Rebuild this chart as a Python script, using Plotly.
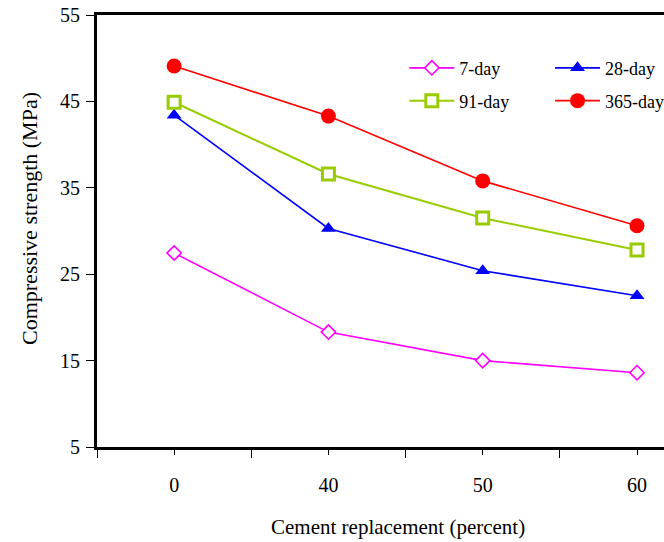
import plotly.graph_objects as go

categories = ["0", "40", "50", "60"]
day7 = [27.45, 18.3, 15.0, 13.6]
day28 = [43.4, 30.3, 25.4, 22.5]
day91 = [44.9, 36.6, 31.5, 27.8]
day365 = [49.1, 43.3, 35.8, 30.6]
yticks = [5, 15, 25, 35, 45, 55]

xpos = list(range(len(categories)))
FONT = "Liberation Serif"

fig = go.Figure()

def add(name, y, color, symbol, size, legend, lw=1.6, mlw=0, fill=None):
    fig.add_trace(go.Scatter(
        x=xpos, y=y, name=name, mode="lines+markers",
        line=dict(color=color, width=lw),
        marker=dict(symbol=symbol, size=size, color=fill if fill else color,
                    line=dict(color=color, width=mlw)),
        legend=legend,
    ))

add("7-day", day7, "#FF00FF", "diamond", 11, "legend", mlw=1.6, fill="white")
add("28-day", day28, "#0000FF", "triangle-up", 13, "legend2")
add("91-day", day91, "#99CC00", "square", 12, "legend3", lw=2, mlw=3, fill="white")
add("365-day", day365, "#FF0000", "circle", 15, "legend4")

def leg(x, y):
    return dict(x=x, y=y, xanchor="left", yanchor="middle", orientation="h",
                bgcolor="rgba(0,0,0,0)", font=dict(family=FONT, size=18),
                itemwidth=45, borderwidth=0)

fig.update_layout(
    width=664, height=542,
    margin=dict(l=97, r=0, t=15, b=95, autoexpand=False),
    paper_bgcolor="white", plot_bgcolor="white",
    font=dict(family=FONT, size=20, color="black"),
    showlegend=True,
    legend=leg(0.542, 0.877),
    legend2=leg(0.799, 0.877),
    legend3=leg(0.542, 0.801),
    legend4=leg(0.799, 0.801),
    xaxis=dict(
        range=[-0.5, 3.175], showgrid=False, zeroline=False,
        tickmode="array", tickvals=xpos, ticktext=categories,
        ticks="outside", ticklen=5, tickwidth=1, tickcolor="black",
        minor=dict(tickmode="array", tickvals=[-0.5, 0.5, 1.5, 2.5], ticks="outside",
                   ticklen=8, tickwidth=1, tickcolor="black", showgrid=False),
        showline=True, linecolor="black", linewidth=3, mirror=True,
        ticklabelstandoff=13,
        tickfont=dict(family=FONT, size=20),
    ),
    yaxis=dict(
        range=[5, 55], showgrid=False, zeroline=False,
        tickmode="array", tickvals=yticks,
        ticks="outside", ticklen=8, tickwidth=1, tickcolor="black",
        showline=True, linecolor="black", linewidth=3, mirror=False,
        ticklabelstandoff=2,
        tickfont=dict(family=FONT, size=20),
    ),
    annotations=[
        dict(text="Cement replacement (percent)", xref="paper", yref="paper",
             x=0.531, y=-0.185, xanchor="center", yanchor="middle", showarrow=False,
             font=dict(family=FONT, size=21)),
        dict(text="Compressive strength (MPa)", xref="paper", yref="paper",
             x=-0.118, y=0.528, xanchor="center", yanchor="middle", showarrow=False,
             textangle=-90, font=dict(family=FONT, size=22)),
    ],
)

fig.write_html("out.html")
